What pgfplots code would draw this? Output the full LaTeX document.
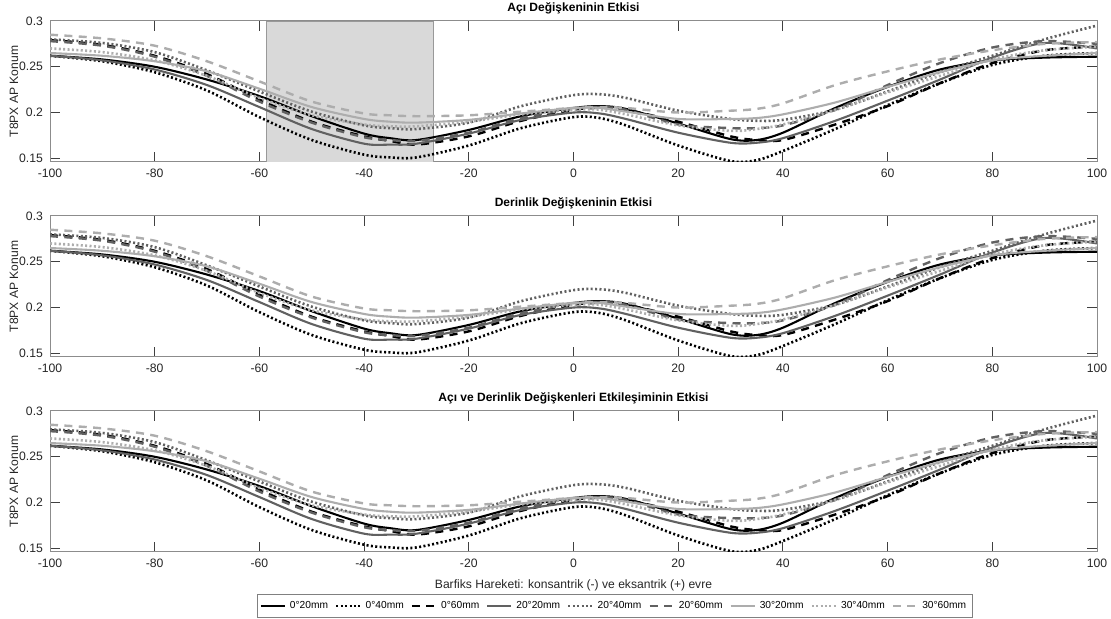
\documentclass[border=0pt]{standalone}
\usepackage{fontspec}
\setmainfont{Liberation Sans}
\usepackage{pgfplots}
\usepackage{pgfplotstable}
\pgfplotsset{compat=1.18}

\definecolor{cK}{gray}{0}
\definecolor{cM}{gray}{0.38}
\definecolor{cL}{gray}{0.68}

\pgfplotstableread{
x A B C D E F G H I
-100 0.262 0.262 0.279 0.262 0.280 0.278 0.265 0.270 0.285
-90 0.258 0.256 0.274 0.257 0.276 0.273 0.262 0.266 0.281
-80 0.250 0.244 0.262 0.247 0.266 0.261 0.256 0.257 0.273
-70 0.236 0.224 0.242 0.230 0.246 0.240 0.245 0.240 0.256
-60 0.218 0.195 0.214 0.206 0.223 0.212 0.226 0.216 0.234
-50 0.196 0.170 0.190 0.182 0.201 0.189 0.206 0.197 0.212
-40 0.177 0.154 0.174 0.166 0.186 0.173 0.193 0.187 0.199
-35 0.172 0.151 0.169 0.165 0.183 0.170 0.190 0.185 0.197
-30 0.170 0.151 0.165 0.166 0.182 0.169 0.189 0.185 0.196
-20 0.181 0.164 0.174 0.177 0.189 0.178 0.192 0.190 0.197
-10 0.196 0.183 0.191 0.192 0.207 0.194 0.199 0.198 0.201
0 0.205 0.195 0.203 0.200 0.219 0.204 0.205 0.203 0.205
5 0.207 0.194 0.205 0.199 0.220 0.206 0.205 0.203 0.206
10 0.204 0.186 0.203 0.193 0.216 0.203 0.201 0.198 0.205
20 0.188 0.164 0.190 0.178 0.202 0.187 0.193 0.186 0.200
30 0.171 0.147 0.174 0.167 0.193 0.183 0.193 0.180 0.202
35 0.170 0.148 0.170 0.167 0.191 0.183 0.194 0.182 0.204
40 0.178 0.158 0.170 0.172 0.192 0.186 0.198 0.187 0.210
50 0.205 0.182 0.187 0.191 0.203 0.203 0.211 0.203 0.230
60 0.228 0.208 0.207 0.213 0.223 0.230 0.228 0.222 0.245
70 0.247 0.232 0.232 0.236 0.244 0.254 0.244 0.240 0.258
80 0.257 0.252 0.254 0.260 0.262 0.271 0.257 0.258 0.268
90 0.260 0.262 0.268 0.276 0.280 0.278 0.262 0.268 0.275
100 0.261 0.265 0.272 0.270 0.295 0.275 0.265 0.272 0.277
}\curves

\pgfplotsset{
  solidL/.style={smooth, line width=1.05pt, #1},
  dotL/.style={smooth, line width=1.3pt, dash pattern=on 1pt off 1.2pt, #1},
  dashL/.style={smooth, line width=1.2pt, dash pattern=on 4pt off 3.2pt, #1},
  panel/.style={
    at={(25pt,#1)}, anchor=south west,
    scale only axis, width=523.5pt, height=70.5pt,
    xmin=-100, xmax=100, ymin=0.146, ymax=0.3,
    xtick={-100,-80,...,100}, ytick={0.15,0.2,0.25,0.3},
    scaled y ticks=false,
    yticklabel style={/pgf/number format/fixed,/pgf/number format/precision=2},
    /pgf/number format/assume math mode=true,
    tick align=inside, major tick length=5pt,
    axis line style={black!45, line width=0.5pt},
    tick style={black!75, line width=0.5pt},
    tick label style={font=\fontsize{6.1}{7}\selectfont, text=black!85},
    label style={font=\fontsize{6.05}{7}\selectfont, text=black!85},
    title style={font=\bfseries\fontsize{6}{7}\selectfont},
    every axis title shift=0pt,
    ylabel={T8PX AP Konum},
    ylabel style={at={(axis description cs:-0.0344,0.5)}, anchor=center},
    legend image code/.code={\draw[##1] (0pt,0pt) -- (12pt,0pt);},
  },
}

\newcommand\allcurves{%
  \addplot[solidL=cK] table[x=x,y=A]{\curves};
  \addplot[dotL=cK] table[x=x,y=B]{\curves};
  \addplot[dashL=cK] table[x=x,y=C]{\curves};
  \addplot[solidL=cM] table[x=x,y=D]{\curves};
  \addplot[dotL=cM] table[x=x,y=E]{\curves};
  \addplot[dashL=cM] table[x=x,y=F]{\curves};
  \addplot[solidL=cL] table[x=x,y=G]{\curves};
  \addplot[dotL=cL] table[x=x,y=H]{\curves};
  \addplot[dashL=cL] table[x=x,y=I]{\curves};
}

\begin{document}
\begin{tikzpicture}
\useasboundingbox (0,0) rectangle (555.5pt,309.5pt);

\begin{axis}[panel=228.5pt, title={Açı Değişkeninin Etkisi}]
  \addplot[fill=black!15, draw=black!40, line width=0.4pt]
    coordinates {(-58.7,0.146) (-58.7,0.3) (-26.7,0.3) (-26.7,0.146)} -- cycle;
  \allcurves
\end{axis}

\begin{axis}[panel=131pt, title={Derinlik Değişkeninin Etkisi}]
  \allcurves
\end{axis}

\begin{axis}[panel=33.5pt, title={Açı ve Derinlik Değişkenleri Etkileşiminin Etkisi},
  xlabel={Barfiks Hareketi: konsantrik (-) ve eksantrik (+) evre},
  xlabel style={yshift=1pt},
  legend columns=9,
  legend style={at={(0.5396,-0.383)}, anchor=center, draw=black!50, fill=white,
    font=\fontsize{5.1}{6}\selectfont, inner sep=1.2pt,
    /tikz/every even column/.append style={column sep=1.5pt}},
  legend cell align=left]
  \allcurves
  \legend{0°20mm,0°40mm,0°60mm,20°20mm,20°40mm,20°60mm,30°20mm,30°40mm,30°60mm}
\end{axis}
\end{tikzpicture}
\end{document}
